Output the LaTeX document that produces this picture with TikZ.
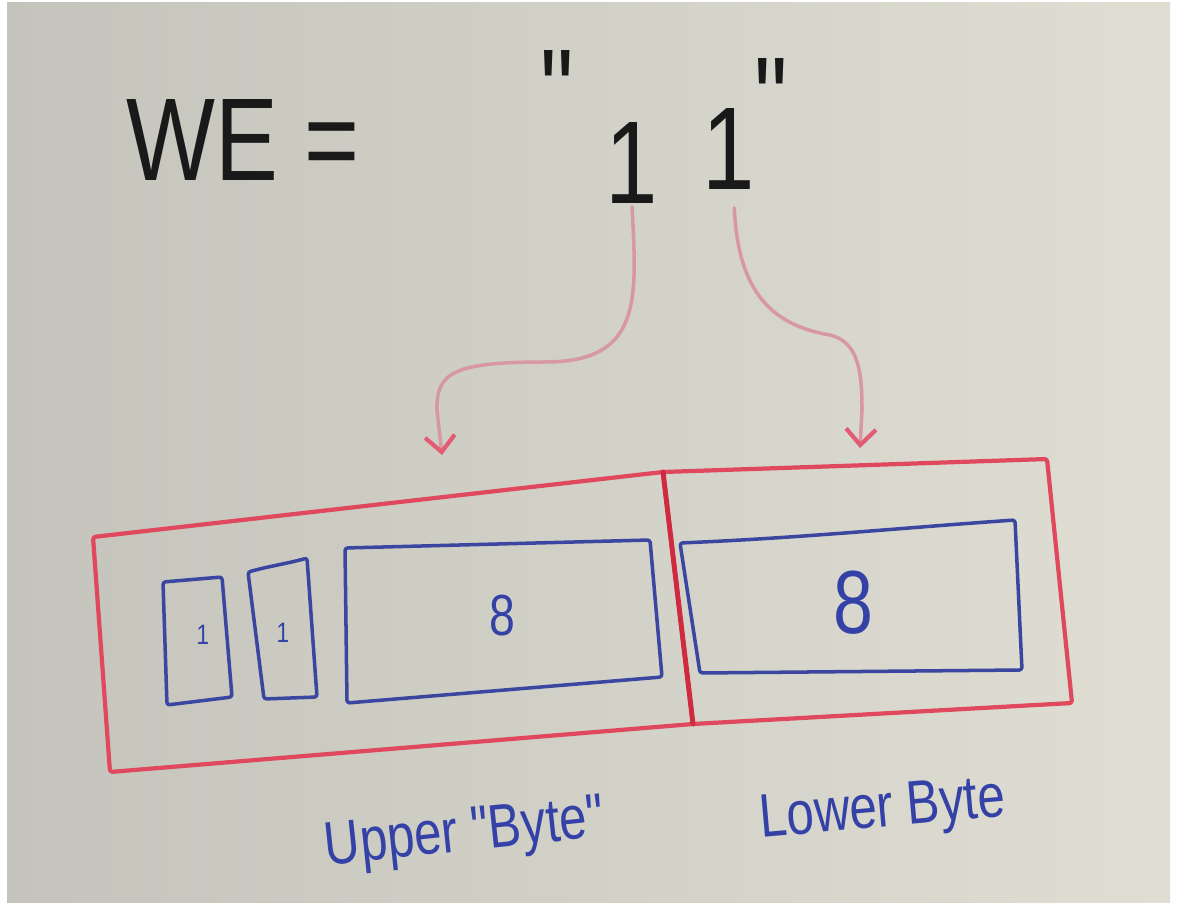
\documentclass[tikz,border=0pt]{standalone}
\usepackage{fontspec}
\setmainfont{Liberation Sans}
\newfontfamily\hand[FakeStretch=0.8]{Liberation Sans}
\usetikzlibrary{arrows.meta}

\definecolor{boardL}{RGB}{196,196,188}
\definecolor{boardR}{RGB}{224,222,211}
\definecolor{ink}{RGB}{25,25,25}
\definecolor{redline}{RGB}{224,72,94}
\definecolor{reddark}{RGB}{208,42,62}
\definecolor{pinkline}{RGB}{216,152,160}
\definecolor{pinkhead}{RGB}{226,92,116}
\definecolor{blueline}{RGB}{58,70,160}
\definecolor{bluetext}{RGB}{52,66,168}

\tikzset{
  redbox/.style={draw=redline, line width=2.4pt, line join=round, rounded corners=1.5pt},
  divider/.style={draw=reddark, line width=2.8pt, line cap=round},
  bluebox/.style={draw=blueline, line width=2pt, line join=round, rounded corners=1.5pt},
  bigtext/.style={inner sep=0pt, text=ink, font=\hand\fontsize{67}{67}\selectfont},
  boxdigit/.style={inner sep=0pt, text=bluetext},
  label/.style={inner sep=0pt, text=bluetext, font=\hand\fontsize{35}{35}\selectfont},
  arrowline/.style={draw=pinkline, line width=2pt, line cap=round,
    -{Straight Barb[color=pinkhead, length=9pt, width=17pt, line width=2.4pt]}}
}

\begin{document}
\begin{tikzpicture}[x=0.02cm, y=-0.02cm]
  \useasboundingbox (0,0) rectangle (1177,909);
  % whiteboard
  \fill[white] (0,0) rectangle (1177,909);
  \shade[left color=boardL, right color=boardR] (7,3) rectangle (1170,902);

  % heading: WE = "1 1"
  \node[bigtext, anchor=base] (we) at (243,180) {WE =};
  \node[bigtext, anchor=north] (q1) at (557,50) {"};
  \node[bigtext, anchor=base] (d1) at (632,203) {1};
  \node[bigtext, anchor=base] (d2) at (729,190) {1};
  \node[bigtext, anchor=north] (q2) at (771,58) {"};

  % arrow targets above the two bytes
  \coordinate (ut) at (442,455);
  \coordinate (lt) at (860,448);

  % upper byte frame
  \draw[redbox] (93,537) -- (663,472) -- (693,724) -- (110,772) -- cycle;
  % lower byte frame
  \draw[redbox] (663,472) -- (1047,459) -- (1072,703) -- (693,724);
  \draw[divider] (663,472) -- (693,724);

  % fields of the upper byte
  \draw[bluebox] (163,582) -- (222,577) -- (232,697) -- (167,705) -- cycle;
  \draw[bluebox] (248,572) .. controls (270,566) and (290,563) .. (307,558)
                 -- (317,697) -- (264,699) -- cycle;
  \draw[bluebox] (345,548) -- (650,540) -- (662,677) -- (347,703) -- cycle;
  \node[boxdigit, font=\hand\fontsize{16}{16}\selectfont] (u1) at (203,635) {1};
  \node[boxdigit, font=\hand\fontsize{16}{16}\selectfont] (u2) at (283,633) {1};
  \node[boxdigit, font=\hand\fontsize{33}{33}\selectfont] (u8) at (502,616) {8};

  % field of the lower byte
  \draw[bluebox] (680,543) .. controls (800,538) and (900,528) .. (1015,520)
                 -- (1022,670) -- (700,673) -- cycle;
  \node[boxdigit, font=\hand\fontsize{51}{51}\selectfont] (l8) at (853,603) {8};

  % arrows from each digit to its byte
  \draw[arrowline] ([yshift=-2pt]d1.south) .. controls (637,300) and (642,362) .. (545,362)
        .. controls (455,362) and (436,372) .. (437,410) -- (ut);
  \draw[arrowline] ([xshift=3pt,yshift=-10pt]d2.south) .. controls (738,290) and (770,325) .. (830,335)
        .. controls (858,342) and (862,370) .. (862,410) -- (lt);

  % captions
  \node[label, rotate=6] (upl) at (465,836) {Upper "Byte"};
  \node[label, rotate=5] (lowl) at (883,812) {Lower Byte};
\end{tikzpicture}
\end{document}
